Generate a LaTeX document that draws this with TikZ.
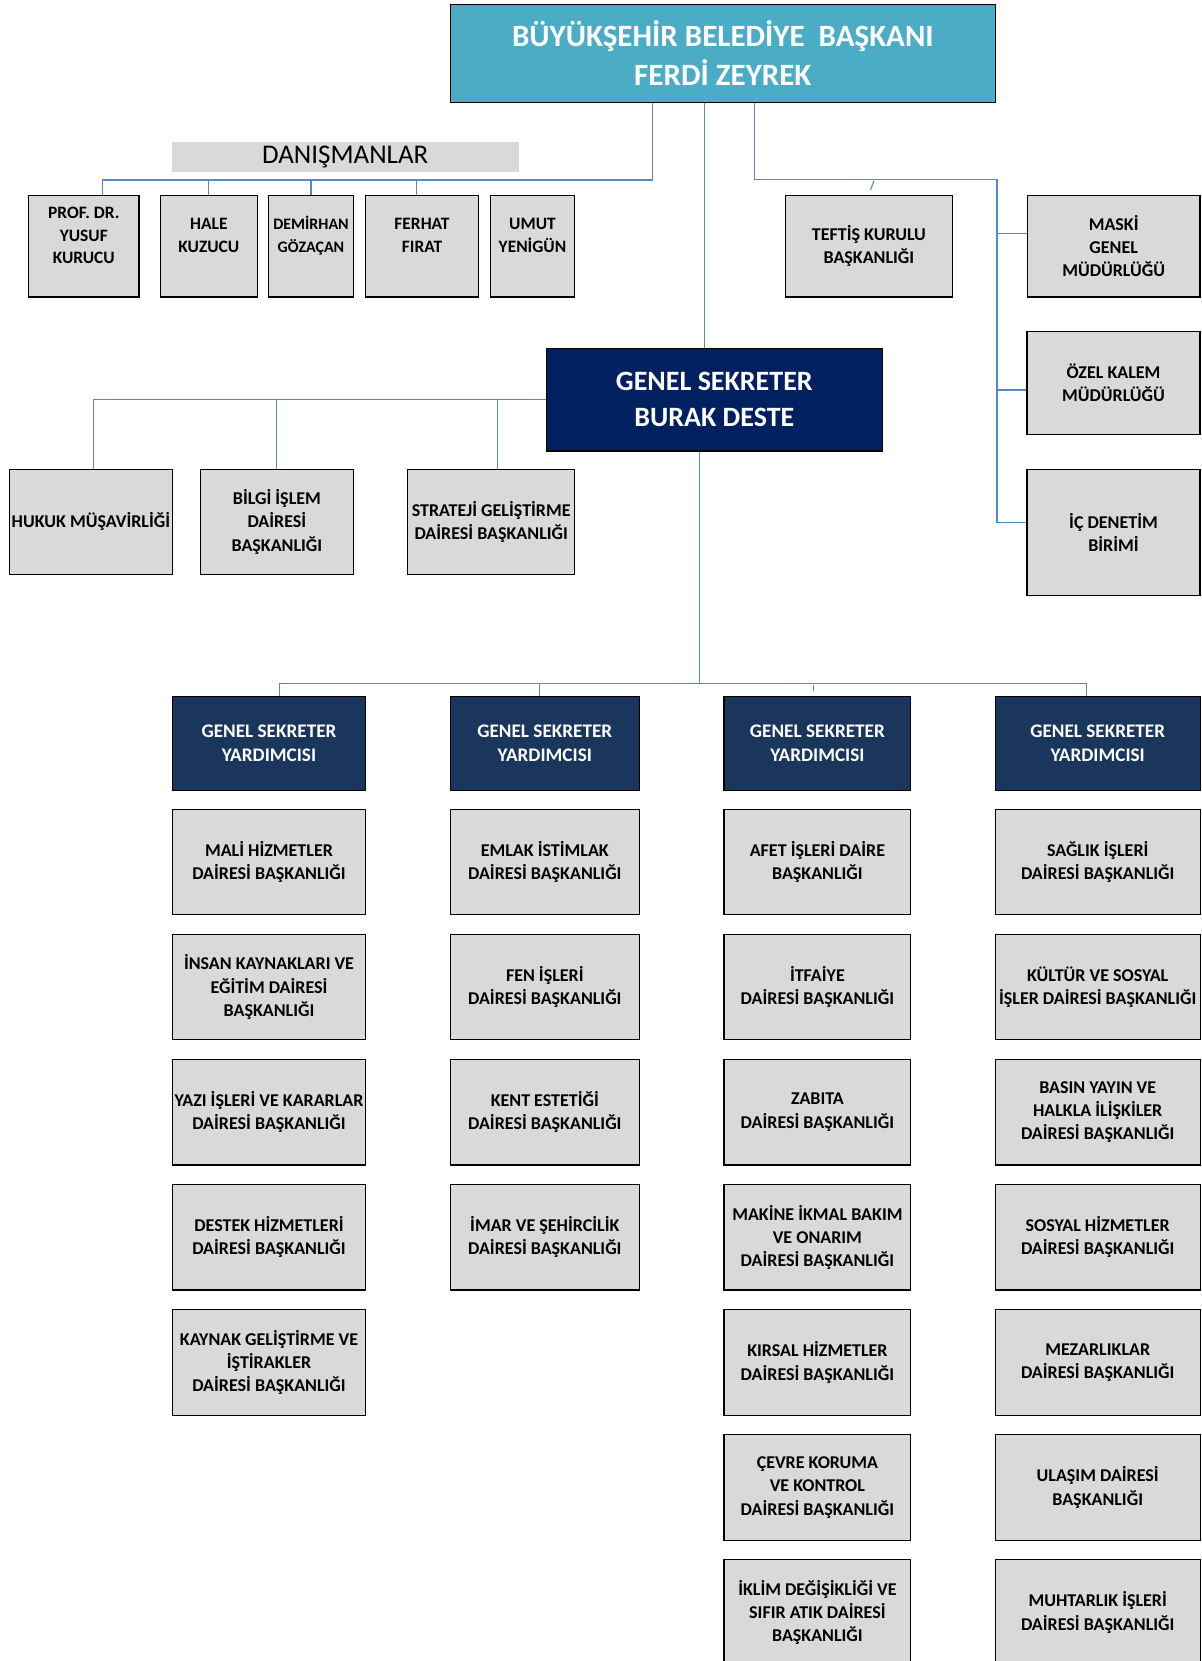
\documentclass[tikz,border=0pt]{standalone}
\usepackage{fontspec}
\setmainfont{Carlito}
\usetikzlibrary{calc}
\definecolor{orgteal}{HTML}{4BACC6}
\definecolor{orgnavy}{HTML}{002060}
\definecolor{orgdeputy}{HTML}{1A365D}
\definecolor{orggray}{HTML}{D9D9D9}
\definecolor{orgblue}{HTML}{5A87C5}
\tikzset{
  orgline/.style={draw=orgblue, line width=0.55pt},
  orgbox/.style={
    draw=black, fill=orggray, line width=0.6pt, inner sep=0pt,
    align=center, font=\bfseries\fontsize{9}{11.65}\selectfont},
  orgdept/.style={orgbox, minimum height=52.75pt},
  orgdeputy/.style={
    orgbox, fill=orgdeputy, text=white, minimum height=46.8pt,
    font=\bfseries\fontsize{9.6}{12.2}\selectfont},
  orgadvisor/.style={orgbox, minimum height=50.85pt},
  orgadvtext/.style={
    align=center, inner sep=0pt, font=\bfseries\fontsize{8.7}{11.4}\selectfont},
  orgcolone/.style={minimum width=96.7pt},
  orgcoltwo/.style={minimum width=94.5pt},
  orgcolthree/.style={minimum width=93.35pt},
  orgcolfour/.style={minimum width=102.5pt},
}

\begin{document}
\begin{tikzpicture}[x=0.5pt, y=-0.5pt]
\useasboundingbox[fill=white] (0,0) rectangle (1201,1661);

% Mayor.
\node[orgbox, fill=orgteal, text=white, minimum width=272.4pt,
      minimum height=48.8pt, font=\bfseries\fontsize{15.5}{19.5}\selectfont]
  (mayor) at (722.8,53.5) {BÜYÜKŞEHİR BELEDİYE\ \ BAŞKANI\\FERDİ ZEYREK};

% Advisors.
\node[fill=orggray, minimum width=173.4pt, minimum height=14.85pt,
      inner sep=0pt, font=\fontsize{13.5}{16}\selectfont]
  (advtitle) at (345.2,156.9) {DANIŞMANLAR};
\node[orgadvisor, minimum width=55.1pt] (adv1) at (83.8,246.2) {};
\node[orgadvtext] (adv1txt) at ($(adv1.center)+(0,-10.7)$) {PROF. DR.\\YUSUF\\KURUCU};
\node[orgadvisor, minimum width=48.4pt] (adv2) at (208.8,246.2) {};
\node[orgadvtext] (adv2txt) at ($(adv2.center)+(0,-10.7)$) {HALE\\KUZUCU};
\node[orgadvisor, minimum width=42.25pt] (adv3) at (311,246.2) {};
\node[orgadvtext, font=\bfseries\fontsize{8}{11.4}\selectfont]
  (adv3txt) at ($(adv3.center)+(0,-10.7)$) {DEMİRHAN\\GÖZAÇAN};
\node[orgadvisor, minimum width=56.45pt] (adv4) at (422,246.2) {};
\node[orgadvtext] (adv4txt) at ($(adv4.center)+(0,-10.7)$) {FERHAT\\FIRAT};
\node[orgadvisor, minimum width=41.9pt] (adv5) at (532.5,246.2) {};
\node[orgadvtext] (adv5txt) at ($(adv5.center)+(0,-10.7)$) {UMUT\\YENİGÜN};

% Units bound to the mayor.
\node[orgbox, minimum width=83.35pt, minimum height=50.85pt]
  (teftis) at (868.9,246.2) {TEFTİŞ KURULU\\BAŞKANLIĞI};
\node[orgbox, minimum width=86.3pt, minimum height=50.85pt]
  (maski) at (1113.7,246.2) {MASKİ\\GENEL\\MÜDÜRLÜĞÜ};
\node[orgbox, minimum width=86.5pt, minimum height=51.3pt]
  (ozelkalem) at (1113.5,383) {ÖZEL KALEM\\MÜDÜRLÜĞÜ};
\node[orgbox, minimum width=86.5pt, minimum height=63.2pt]
  (icdenetim) at (1113.5,532.5) {İÇ DENETİM\\BİRİMİ};

% Secretary general and the units bound to it.
\node[orgbox, fill=orgnavy, text=white, minimum width=168pt,
      minimum height=51.35pt, font=\bfseries\fontsize{14}{18}\selectfont]
  (gs) at (714.3,399.7) {GENEL SEKRETER\\BURAK DESTE};
\node[orgbox, minimum width=81.3pt, minimum height=52.5pt]
  (hukuk) at (90.9,521.8) {HUKUK MÜŞAVİRLİĞİ};
\node[orgbox, minimum width=76.35pt, minimum height=52.5pt]
  (bilgi) at (276.9,521.8) {BİLGİ İŞLEM\\DAİRESİ\\BAŞKANLIĞI};
\node[orgbox, minimum width=83.6pt, minimum height=52.5pt]
  (strateji) at (491.2,521.8) {STRATEJİ GELİŞTİRME\\DAİRESİ BAŞKANLIĞI};

% Deputies.
\node[orgdeputy, orgcolone] (gsy1) at (269,743.5) {GENEL SEKRETER\\YARDIMCISI};
\node[orgdeputy, orgcoltwo] (gsy2) at (544.8,743.5) {GENEL SEKRETER\\YARDIMCISI};
\node[orgdeputy, orgcolthree] (gsy3) at (817.4,743.5) {GENEL SEKRETER\\YARDIMCISI};
\node[orgdeputy, orgcolfour] (gsy4) at (1097.7,743.5) {GENEL SEKRETER\\YARDIMCISI};

% First column.
\node[orgdept, orgcolone] (mali) at (269,862) {MALİ HİZMETLER\\DAİRESİ BAŞKANLIĞI};
\node[orgdept, orgcolone] (insan) at (269,987.1) {İNSAN KAYNAKLARI VE\\EĞİTİM DAİRESİ\\BAŞKANLIĞI};
\node[orgdept, orgcolone] (yazi) at (269,1112.2) {YAZI İŞLERİ VE KARARLAR\\DAİRESİ BAŞKANLIĞI};
\node[orgdept, orgcolone] (destek) at (269,1237.3) {DESTEK HİZMETLERİ\\DAİRESİ BAŞKANLIĞI};
\node[orgdept, orgcolone] (kaynak) at (269,1362.4) {KAYNAK GELİŞTİRME VE\\İŞTİRAKLER\\DAİRESİ BAŞKANLIĞI};

% Second column.
\node[orgdept, orgcoltwo] (emlak) at (544.8,862) {EMLAK İSTİMLAK\\DAİRESİ BAŞKANLIĞI};
\node[orgdept, orgcoltwo] (fen) at (544.8,987.1) {FEN İŞLERİ\\DAİRESİ BAŞKANLIĞI};
\node[orgdept, orgcoltwo] (kent) at (544.8,1112.2) {KENT ESTETİĞİ\\DAİRESİ BAŞKANLIĞI};
\node[orgdept, orgcoltwo] (imar) at (544.8,1237.3) {İMAR VE ŞEHİRCİLİK\\DAİRESİ BAŞKANLIĞI};

% Third column.
\node[orgdept, orgcolthree] (afet) at (817.4,862) {AFET İŞLERİ DAİRE\\BAŞKANLIĞI};
\node[orgdept, orgcolthree] (itfaiye) at (817.4,987.1) {İTFAİYE\\DAİRESİ BAŞKANLIĞI};
\node[orgdept, orgcolthree] (zabita) at (817.4,1112.2) {ZABITA\\DAİRESİ BAŞKANLIĞI};
\node[orgdept, orgcolthree] (makine) at (817.4,1237.3) {MAKİNE İKMAL BAKIM\\VE ONARIM\\DAİRESİ BAŞKANLIĞI};
\node[orgdept, orgcolthree] (kirsal) at (817.4,1362.4) {KIRSAL HİZMETLER\\DAİRESİ BAŞKANLIĞI};
\node[orgdept, orgcolthree] (cevre) at (817.4,1487.5) {ÇEVRE KORUMA\\VE KONTROL\\DAİRESİ BAŞKANLIĞI};
\node[orgdept, orgcolthree] (iklim) at (817.4,1612.6) {İKLİM DEĞİŞİKLİĞİ VE\\SIFIR ATIK DAİRESİ\\BAŞKANLIĞI};

% Fourth column.
\node[orgdept, orgcolfour] (saglik) at (1097.7,862) {SAĞLIK İŞLERİ\\DAİRESİ BAŞKANLIĞI};
\node[orgdept, orgcolfour] (kultur) at (1097.7,987.1) {KÜLTÜR VE SOSYAL\\İŞLER DAİRESİ BAŞKANLIĞI};
\node[orgdept, orgcolfour] (basin) at (1097.7,1112.2) {BASIN YAYIN VE\\HALKLA İLİŞKİLER\\DAİRESİ BAŞKANLIĞI};
\node[orgdept, orgcolfour] (sosyal) at (1097.7,1237.3) {SOSYAL HİZMETLER\\DAİRESİ BAŞKANLIĞI};
\node[orgdept, orgcolfour] (mezar) at (1097.7,1362.4) {MEZARLIKLAR\\DAİRESİ BAŞKANLIĞI};
\node[orgdept, orgcolfour] (ulasim) at (1097.7,1487.5) {ULAŞIM DAİRESİ\\BAŞKANLIĞI};
\node[orgdept, orgcolfour] (muhtar) at (1097.7,1612.6) {MUHTARLIK İŞLERİ\\DAİRESİ BAŞKANLIĞI};

% Mayor to advisors.
\coordinate (advbus) at (652.9,180);
\draw[orgline] (mayor.south -| advbus) -- (advbus) -| ($(adv1.north)+(18.8,0)$);
\draw[orgline] (adv2.north) -- (adv2.north |- advbus);
\draw[orgline] (adv3.north) -- (adv3.north |- advbus);
\coordinate (adv4top) at ($(adv4.north)+(-5.2,0)$);
\draw[orgline] (adv4top) -- (adv4top |- advbus);

% Mayor to secretary general.
\coordinate (gstop) at ($(gs.north)+(-10,0)$);
\draw[orgline] (mayor.south -| gstop) -- (gstop);

% Mayor to the right-hand units.
\coordinate (rbus) at (997,179.5);
\draw[orgline] ($(mayor.south)+(31.7,0)$) |- (rbus)
  |- ($(icdenetim.west)+(0,-10)$);
\coordinate (maskiport) at ($(maski.west)+(0,-13)$);
\draw[orgline] (maskiport) -- (maskiport -| rbus);
\coordinate (ozelport) at ($(ozelkalem.west)+(0,7)$);
\draw[orgline] (ozelport) -- (ozelport -| rbus);
\coordinate (tefstub) at ($(teftis.north)+(5,-14)$);
\draw[orgline, shorten >=2.5pt] (tefstub) -- (teftis.north);

% Secretary general to the left-hand units.
\draw[orgline] (gs.west) -| ($(hukuk.north)+(2.5,0)$);
\draw[orgline] (bilgi.north) -- (bilgi.north |- gs.west);
\coordinate (stratop) at ($(strateji.north)+(5.9,0)$);
\draw[orgline] (stratop) -- (stratop |- gs.west);

% Secretary general to the deputies.
\coordinate (gsybus) at (699.4,683.3);
\draw[orgline] (gs.south -| gsybus) -- (gsybus);
\draw[orgline] ($(gsy1.north)+(10.7,0)$) |- (gsybus)
  -| ($(gsy4.north)+(-11.3,0)$);
\coordinate (gsy2top) at ($(gsy2.north)+(-5.5,0)$);
\draw[orgline] (gsy2top) -- (gsy2top |- gsybus);
\coordinate (gsy3top) at ($(gsy3.north)+(-4.1,0)$);
\draw[orgline, shorten <=0.85pt, shorten >=2.5pt] (gsy3top |- gsybus) -- (gsy3top);

\end{tikzpicture}
\end{document}
